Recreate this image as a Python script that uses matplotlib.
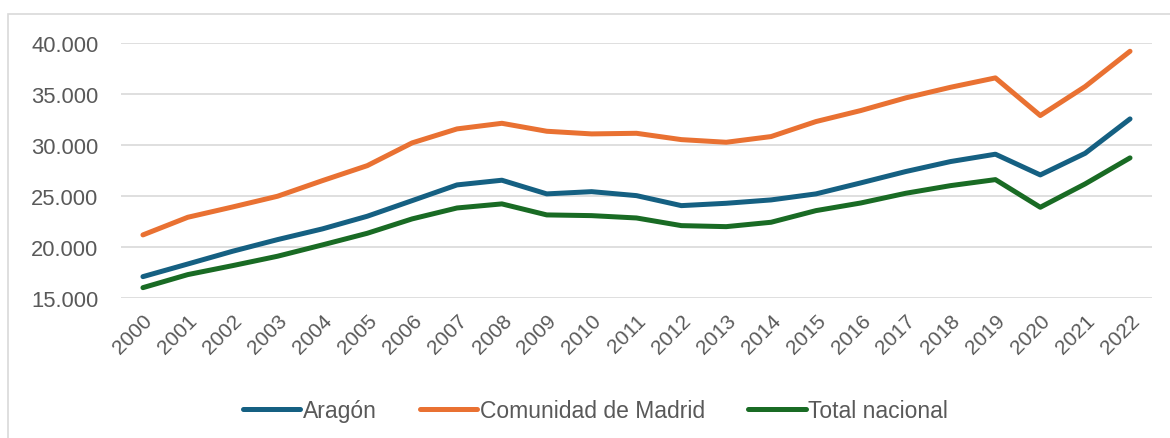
import matplotlib.pyplot as plt
import numpy as np
from matplotlib.ticker import FuncFormatter
from matplotlib.patches import Rectangle

years = [str(y) for y in range(2000, 2023)]

aragon = [17090, 18330, 19580, 20720, 21770, 23010, 24540, 26080, 26540, 25200, 25420,
          25030, 24050, 24280, 24610, 25200, 26280, 27390, 28370, 29090, 27060, 29180, 32550]
madrid = [21180, 22910, 23920, 24970, 26500, 27970, 30200, 31570, 32120, 31340, 31080,
          31140, 30520, 30260, 30820, 32290, 33370, 34610, 35650, 36570, 32880, 35720, 39180]
total = [16010, 17290, 18170, 19090, 20200, 21340, 22750, 23820, 24220, 23140, 23070,
         22840, 22090, 21990, 22420, 23560, 24310, 25260, 26010, 26600, 23890, 26180, 28730]

series_names = ['Aragón', 'Comunidad de Madrid', 'Total nacional']
colors = ['#156082', '#E97132', '#196B24']

plt.rcParams['font.family'] = ['Liberation Sans', 'DejaVu Sans']

fig = plt.figure(figsize=(11.7, 4.39), dpi=100)
ax = fig.add_axes([0.103, 0.319, 0.882, 0.581])

x = np.arange(len(years))
for vals, name, c in zip([aragon, madrid, total], series_names, colors):
    ax.plot(x, vals, color=c, lw=3.6, label=name, solid_capstyle='round', solid_joinstyle='round')

ax.set_xlim(-0.5, len(years) - 0.5)
ax.set_ylim(15000, 40000)
ax.set_yticks(np.arange(15000, 40001, 5000))
ax.yaxis.set_major_formatter(FuncFormatter(lambda v, p: f'{int(v):,}'.replace(',', '.')))
ax.set_xticks(x)
ax.set_xticklabels(years, rotation=45, ha='right', rotation_mode='anchor')
ax.tick_params(axis='both', length=0, colors='#595959', labelsize=15)
ax.tick_params(axis='y', labelsize=15.8, pad=16)
ax.tick_params(axis='x', pad=9)
ax.grid(axis='y', color='#d9d9d9', lw=1.2)
ax.set_axisbelow(True)
for s in ax.spines.values():
    s.set_visible(False)

leg = fig.legend(loc='center', bbox_to_anchor=(0.509, 0.062), ncol=3, frameon=False,
                 fontsize=16.5, handlelength=2.5, handletextpad=0.1, columnspacing=1.9)
for t in leg.get_texts():
    t.set_color('#595959')

fig.patches.append(Rectangle((8 / 1170, -0.05), 1.1, 1 - 15 / 439 + 0.05, transform=fig.transFigure,
                             fill=False, edgecolor='#d9d9d9', lw=1.2))

plt.savefig('out.png', dpi=100)
